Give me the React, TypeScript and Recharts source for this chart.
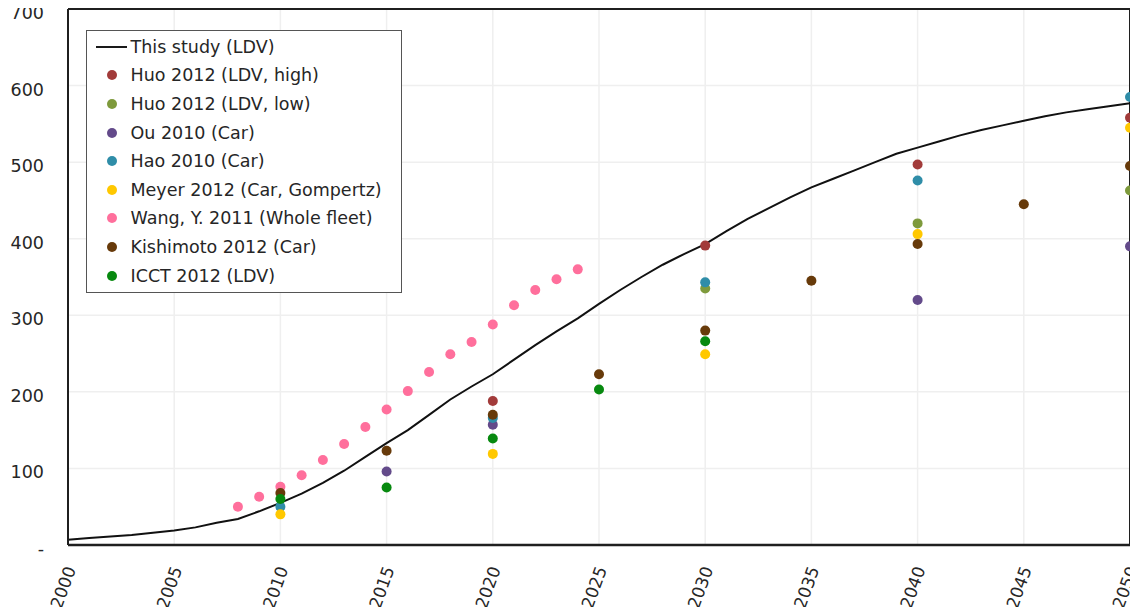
import React from "react";
import {
  ComposedChart,
  Line,
  Scatter,
  XAxis,
  YAxis,
  CartesianGrid,
  ReferenceLine,
} from "recharts";

// This study (LDV), yearly
const studyYears = [
  2000, 2001, 2002, 2003, 2004, 2005, 2006, 2007, 2008, 2009, 2010, 2011, 2012,
  2013, 2014, 2015, 2016, 2017, 2018, 2019, 2020, 2021, 2022, 2023, 2024, 2025,
  2026, 2027, 2028, 2029, 2030, 2031, 2032, 2033, 2034, 2035, 2036, 2037, 2038,
  2039, 2040, 2041, 2042, 2043, 2044, 2045, 2046, 2047, 2048, 2049, 2050,
];
const studyValues = [
  7, 9, 11, 13, 16, 19, 23, 29, 34, 44, 55, 67, 81, 97, 115, 133, 150, 170, 190,
  207, 223, 242, 261, 279, 296, 315, 333, 350, 366, 380, 393, 410, 426, 440, 454,
  467, 478, 489, 500, 511, 519, 527, 535, 542, 548, 554, 560, 565, 569, 573, 577,
];

const huoHighYears = [2020, 2030, 2040, 2050];
const huoHighValues = [188, 391, 497, 558];
const huoLowYears = [2030, 2040, 2050];
const huoLowValues = [335, 420, 463];
const ouYears = [2015, 2020, 2040, 2050];
const ouValues = [96, 157, 320, 390];
const haoYears = [2010, 2020, 2030, 2040, 2050];
const haoValues = [50, 166, 343, 476, 585];
const meyerYears = [2010, 2020, 2030, 2040, 2050];
const meyerValues = [40, 119, 249, 406, 545];
const wangYears = [
  2008, 2009, 2010, 2011, 2012, 2013, 2014, 2015, 2016, 2017, 2018, 2019, 2020,
  2021, 2022, 2023, 2024,
];
const wangValues = [
  50, 63, 76, 91, 111, 132, 154, 177, 201, 226, 249, 265, 288, 313, 333, 347, 360,
];
const kishimotoYears = [2010, 2015, 2020, 2025, 2030, 2035, 2040, 2045, 2050];
const kishimotoValues = [68, 123, 170, 223, 280, 345, 393, 445, 495];
const icctYears = [2010, 2015, 2020, 2025, 2030];
const icctValues = [60, 75, 139, 203, 266];

const xTicks = [2000, 2005, 2010, 2015, 2020, 2025, 2030, 2035, 2040, 2045, 2050];
const yTicks = [0, 100, 200, 300, 400, 500, 600, 700];

const FONT = "'DejaVu Sans', sans-serif";
const TEXT = "#262626";

const toPoints = (years: number[], values: number[]) =>
  years.map((year, i) => ({ year, value: values[i] }));

const series = [
  { name: "Huo 2012 (LDV, high)", color: "#A23B3A", data: toPoints(huoHighYears, huoHighValues) },
  { name: "Huo 2012 (LDV, low)", color: "#7E9A3C", data: toPoints(huoLowYears, huoLowValues) },
  { name: "Ou 2010 (Car)", color: "#634A8A", data: toPoints(ouYears, ouValues) },
  { name: "Hao 2010 (Car)", color: "#2F8DA8", data: toPoints(haoYears, haoValues) },
  { name: "Meyer 2012 (Car, Gompertz)", color: "#FFC800", data: toPoints(meyerYears, meyerValues) },
  { name: "Wang, Y. 2011 (Whole fleet)", color: "#FF6F9C", data: toPoints(wangYears, wangValues) },
  { name: "Kishimoto 2012 (Car)", color: "#673A0A", data: toPoints(kishimotoYears, kishimotoValues) },
  { name: "ICCT 2012 (LDV)", color: "#07890F", data: toPoints(icctYears, icctValues) },
];

const studyData = toPoints(studyYears, studyValues);

const XTick = (props: any) => {
  const { x, y, payload } = props;
  const tx = x + 2.5;
  const ty = y + 14;
  return (
    <text
      x={tx}
      y={ty}
      transform={`rotate(-70, ${tx}, ${ty})`}
      textAnchor="end"
      dominantBaseline="central"
      fontSize={17}
      fontFamily={FONT}
      fill={TEXT}
    >
      {payload.value}
    </text>
  );
};

const YTick = (props: any) => {
  const { x, y, payload } = props;
  return (
    <text
      x={x}
      y={y + 4}
      textAnchor="end"
      dominantBaseline="central"
      fontSize={17.5}
      fontFamily={FONT}
      fill={TEXT}
    >
      {payload.value === 0 ? "-" : payload.value}
    </text>
  );
};

const LegendBox = () => (
  <div
    style={{
      position: "absolute",
      left: 86,
      top: 30,
      width: 316,
      height: 263,
      border: "1.5px solid #555",
      background: "#fff",
      paddingTop: 1.5,
      fontFamily: FONT,
      fontSize: 17.5,
      color: TEXT,
      boxSizing: "border-box",
    }}
  >
    <div style={{ display: "flex", alignItems: "center", height: 28.6 }}>
      <div style={{ width: 31, height: 2, background: "#1a1a1a", marginLeft: 8.5, marginRight: 4 }} />
      <span>This study (LDV)</span>
    </div>
    {series.map((s) => (
      <div key={s.name} style={{ display: "flex", alignItems: "center", height: 28.6 }}>
        <div
          style={{
            width: 10,
            height: 10,
            borderRadius: 5,
            background: s.color,
            marginLeft: 19.5,
            marginRight: 14,
          }}
        />
        <span>{s.name}</span>
      </div>
    ))}
  </div>
);

export default function App() {
  return (
    <div style={{ position: "relative", width: 1138, height: 615, margin: -8 }}>
      <ComposedChart
        width={1138}
        height={615}
        margin={{ top: 9, right: 8, bottom: 40, left: 18 }}
      >
        <CartesianGrid stroke="#efefef" strokeWidth={1.5} horizontalValues={yTicks} verticalValues={xTicks} />
        <XAxis
          dataKey="year"
          type="number"
          domain={[2000, 2050]}
          ticks={xTicks}
          allowDuplicatedCategory={false}
          tick={<XTick />}
          tickLine={false}
          axisLine={{ stroke: "#1f1f1f", strokeWidth: 2.5 }}
          interval={0}
          height={30}
        />
        <YAxis
          type="number"
          domain={[0, 700]}
          ticks={yTicks}
          width={50}
          tickLine={false}
          axisLine={{ stroke: "#1f1f1f", strokeWidth: 2 }}
          tickMargin={18}
          interval={0}
          tick={<YTick />}
        />
        <ReferenceLine x={2050} stroke="#1f1f1f" strokeWidth={2} />
        <ReferenceLine y={700} stroke="#1f1f1f" strokeWidth={2} />
        <Line
          data={studyData}
          dataKey="value"
          type="linear"
          stroke="#111"
          strokeWidth={2}
          dot={false}
          isAnimationActive={false}
          name="This study (LDV)"
        />
        {series.map((s) => (
          <Scatter
            key={s.name}
            name={s.name}
            data={s.data}
            dataKey="value"
            fill={s.color}
            isAnimationActive={false}
            shape={(p: any) => <circle cx={p.cx} cy={p.cy} r={5} fill={s.color} />}
          />
        ))}
      </ComposedChart>
      <LegendBox />
    </div>
  );
}
